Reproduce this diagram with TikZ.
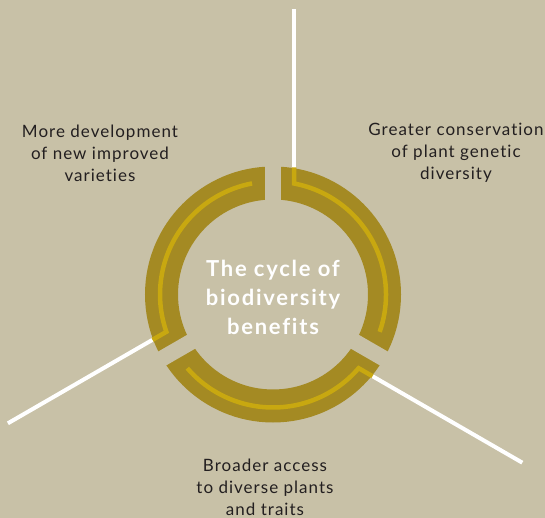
\documentclass[tikz,border=0pt]{standalone}
\usepackage{fontspec}
\setmainfont{Lato}[LetterSpace=6, Ligatures=NoCommon]
\newfontfamily\titlefont{Lato}[LetterSpace=8, Ligatures=NoCommon]
\usetikzlibrary{positioning}

\definecolor{sand}{HTML}{C8C1A7}
\definecolor{ringolive}{HTML}{A48A23}
\definecolor{gold}{HTML}{C8A810}
\definecolor{ink}{HTML}{231F20}

\tikzset{
    spoke/.style={white, line width=4pt},
    ringband/.style={draw=ringolive, line width=33pt},
    vein/.style={gold, line width=4.5pt},
    gapcut/.style={fill=sand},
    armtext/.style={align=center, text=ink, font=\fontsize{17}{22}\selectfont},
}

\begin{document}
\begin{tikzpicture}[x=1pt, y=1pt]

    % background
    \fill[sand] (0,0) rectangle (545,518);
    \useasboundingbox (0,0) rectangle (545,518);

    \coordinate (c) at (273,223.5);

    % end points of the three arms (drawn pointing up, then rotated)
    \foreach \arm/\rot/\len in {top/0/285, right/-120/300, left/120/294}{
        \begin{scope}[shift={(c)}, rotate=\rot]
            \coordinate (\arm tip)  at (21,\len);
            \coordinate (\arm rim)  at (21,127);
            \coordinate (\arm foot) at (21,111);
        \end{scope}
    }

    % white spokes
    \foreach \arm in {top, right, left}
        \draw[spoke] (\arm tip) -- (\arm foot);

    % ring
    \draw[ringband] (c) circle[radius=111.5];

    % gold line inside each segment
    \foreach \arm/\rot in {top/0, right/-120, left/120}{
        \begin{scope}[shift={(c)}, rotate=\rot]
            \draw[vein] (\arm rim) -- (\arm foot) arc[start angle=79.3, end angle=-19.3, radius=113];
        \end{scope}
    }

    % gaps between the segments
    \foreach \rot in {0, -120, 120}{
        \begin{scope}[shift={(c)}, rotate=\rot]
            \fill[gapcut] (-8,88) rectangle (8,136);
        \end{scope}
    }

    % centre text
    \node[align=center, text=white, font=\titlefont\fontsize{22}{29}\selectfont\bfseries] (title) at (273,221)
        {The cycle of\\biodiversity\\benefits};

    % arm texts
    \node[armtext] (develop) at (100,365) {More development\\of new improved\\varieties};
    \node[armtext] (conserve) at (456,365) {Greater conservation\\of plant genetic\\diversity};
    \node[armtext] (access) at (265,31) {Broader access\\to diverse plants\\and traits};

\end{tikzpicture}
\end{document}
